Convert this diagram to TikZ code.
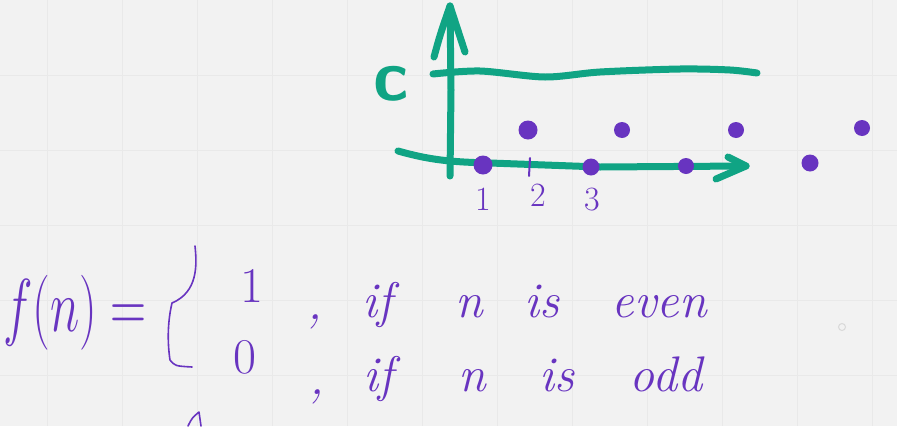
\RequirePackage{fix-cm}
\documentclass[tikz,border=0pt]{standalone}
\usepackage{fontspec}
\usepackage{graphicx}
\definecolor{paper}{RGB}{242,242,242}
\definecolor{gridgray}{RGB}{233,233,233}
\definecolor{chalkgreen}{RGB}{16,164,132}
\definecolor{pen}{RGB}{104,52,192}
\tikzset{
  gridline/.style={gridgray,line width=1pt},
  marker/.style={chalkgreen,line width=7pt,line cap=round,line join=round},
  stroke/.style={pen,line width=1.6pt,line cap=round,line join=round},
  ink/.style={pen,inner sep=0pt,anchor=base,font=\fontsize{50}{50}\selectfont\itshape},
  digit/.style={pen,inner sep=0pt,anchor=base,font=\fontsize{34}{34}\selectfont},
}
\begin{document}
\begin{tikzpicture}[x=1pt,y=-1pt]
  \fill[paper] (0,0) rectangle (897,426);
  \useasboundingbox (0,0) rectangle (897,426);
  \foreach \x in {47,122,...,872} \draw[gridline] (\x,0) -- (\x,426);
  \foreach \y in {75,150,...,375} \draw[gridline] (0,\y) -- (897,\y);
  \draw[gray!30,line width=1pt] (842,327) circle (3.5pt);

  \coordinate (ytop) at (450,6);
  \coordinate (xend) at (746,166);
  \draw[marker] (450,176) -- (451,90) -- (ytop);
  \draw[marker] (434,57) .. controls (440,35) .. (ytop) -- (465,52);
  \draw[marker] (398,151) .. controls (430,160) and (450,162) .. (490,163) -- (600,167) -- (xend);
  \draw[marker] (728,157) -- (xend) -- (716,179);
  \draw[marker] plot[smooth] coordinates {(433,74) (480,71) (545,77) (600,72) (680,69) (730,70) (757,73)};
  \node[chalkgreen,inner sep=0pt,font=\fontsize{72}{72}\selectfont\sffamily\bfseries] (c) at (391,84) {c};

  \foreach \x/\y/\r in {483/165/9.5,528/130/9.5,591/167/8.5,622/130/8,686/166/8,736/130/8,810/163/8.5,862/128/8}
    \fill[pen] (\x,\y) circle (\r pt);
  \draw[pen,line width=2pt,line cap=round] (530,158) -- (529,176);
  \node[digit] (lab1) at (483,210) {1};
  \node[digit] (lab2) at (538,206) {2};
  \node[digit] (lab3) at (592,210) {3};

  \node[ink] (fn) at (75,331) {\scalebox{1}[1.5]{$f(n)=$}};
  \draw[stroke] (195,246) .. controls (197,265) and (198,292) .. (172,303)
    .. controls (168,320) and (167,340) .. (170,360) .. controls (175,366) .. (192,367);
  \node[ink,font=\fontsize{50}{50}\selectfont] (one) at (252,302) {1};
  \node[ink,font=\fontsize{50}{50}\selectfont] (zero) at (245,373) {0};
  \node[ink] (comma1) at (315,319) {,};
  \node[ink] (if1) at (377,317) {if};
  \node[ink] (n1) at (469,317) {n};
  \node[ink] (is1) at (542,317) {is};
  \node[ink] (even1) at (659,317) {even};
  \node[ink] (comma2) at (317,394) {,};
  \node[ink] (if2) at (378,391) {if};
  \node[ink] (n2) at (472,391) {n};
  \node[ink] (is2) at (557,391) {is};
  \node[ink] (odd2) at (666,391) {odd};
  \draw[stroke] (188,426) .. controls (192,418) .. (199,412) -- (201,426);
\end{tikzpicture}
\end{document}
